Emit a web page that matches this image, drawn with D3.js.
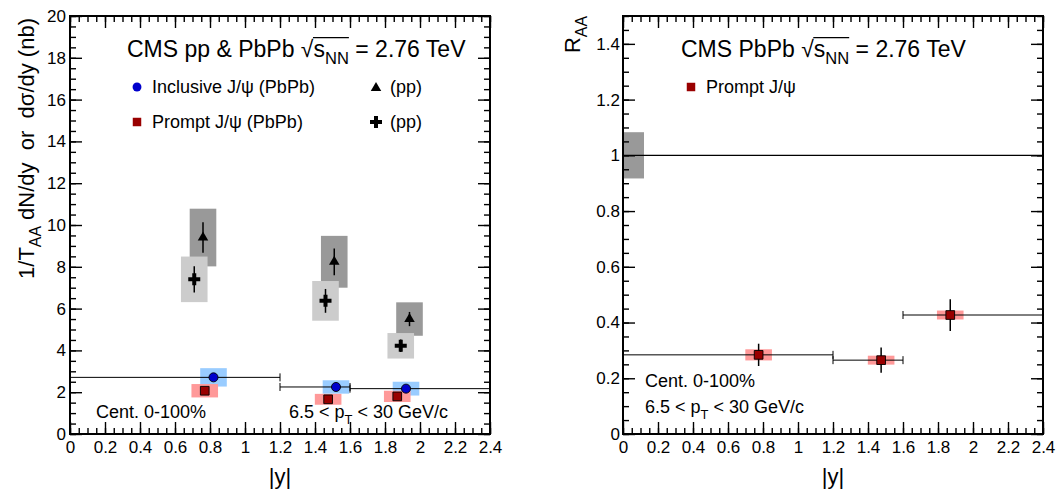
<!DOCTYPE html>
<html>
<head>
<meta charset="utf-8">
<script src="https://cdn.jsdelivr.net/npm/d3@7"></script>
<style>
  body { margin: 0; background: #fff; }
  text { font-family: 'Liberation Sans', Arial, Helvetica, sans-serif; white-space: pre; }
</style>
</head>
<body>
<svg id="chart" width="1056" height="489"></svg>
<script>
/* rapidity bins (|y|) */
const yBins = [[0, 1.2], [1.2, 1.6], [1.6, 2.4]]

/* pp cross sections, triangle marker */
const ppTriX = [0.76, 1.51, 1.94]
const ppTriY = [9.4, 8.24, 5.5]
const ppTriStat = [0.73, 0.64, 0.34]
const ppTriSyst = [1.38, 1.24, 0.8]

/* pp cross sections, cross marker */
const ppCrossX = [0.71, 1.46, 1.89]
const ppCrossY = [7.4, 6.37, 4.22]
const ppCrossStat = [0.63, 0.57, 0.3]
const ppCrossSyst = [1.09, 0.95, 0.61]

/* inclusive J/psi PbPb yields */
const inclX = [0.82, 1.52, 1.92]
const inclY = [2.71, 2.25, 2.17]
const inclStat = [0.12, 0.1, 0.1]
const inclSyst = [0.44, 0.32, 0.33]

/* prompt J/psi PbPb yields */
const promptX = [0.77, 1.475, 1.87]
const promptY = [2.07, 1.66, 1.8]
const promptStat = [0.1, 0.1, 0.1]
const promptSyst = [0.32, 0.26, 0.27]

/* prompt J/psi RAA */
const raaX = [0.775, 1.475, 1.87]
const raaY = [0.284, 0.265, 0.427]
const raaStat = [0.04, 0.045, 0.057]
const raaSyst = [0.02, 0.016, 0.016]
const raaGlobal = 0.083

/* axis tick values */
const xMajor = d3.range(0, 2.41, 0.2)
const xMinor = d3.range(0, 2.41, 0.05)
const yLMajor = d3.range(0, 20.1, 2)
const yLMinor = d3.range(0, 20.1, 0.5)
const yRMajor = d3.range(0, 1.41, 0.2)
const yRMinor = d3.range(0, 1.51, 0.05)

/* style constants */
const boxHalf = 0.076
const globalBoxW = 0.12
const capLen = 4
const col = {
  darkBox: '#999999', lightBox: '#cccccc', blueBox: '#99ccff', redBox: '#ff9999',
  blue: '#0000cc', red: '#990000'
}

const svg = d3.select('#chart')
const fmt = (v) => String(+v.toFixed(2))

/* scales */
const xL = d3.scaleLinear().domain([0, 2.4]).range([70, 490])
const yL = d3.scaleLinear().domain([0, 20]).range([434, 16])
const xR = d3.scaleLinear().domain([0, 2.4]).range([623, 1043])
const yR = d3.scaleLinear().domain([0, 1.5]).range([434, 16])

/* fn: text with optional subscripts */
function richText(g, x, y, size, parts, anchor, rot) {
  const t = g.append('text')
    .attr('x', x).attr('y', y)
    .style('font-size', size + 'px')
    .attr('text-anchor', anchor || 'start')
  if (rot) t.attr('transform', `rotate(${rot},${x},${y})`)
  let down = false
  parts.forEach(function (p) {
    const ts = t.append('tspan').text(p.t)
    if (p.sub) {
      ts.style('font-size', size * 0.72 + 'px')
      if (!down) { ts.attr('dy', size * 0.32); down = true }
    } else if (down) {
      ts.attr('dy', -size * 0.32); down = false
    }
  })
  return t
}

/* fn: title with sqrt(s_NN) and its overline */
function sqrtTitle(g, x, y, size, before) {
  const t = richText(g, x, y, size, [
    { t: before + '\u221A' }, { t: 's' }, { t: 'NN', sub: true }, { t: ' = 2.76 TeV' }
  ])
  const node = t.node()
  const n = before.length
  const x0 = node.getEndPositionOfChar(n).x - 0.5
  const x1 = node.getEndPositionOfChar(n + 3).x
  g.append('line')
    .attr('x1', x0).attr('x2', x1)
    .attr('y1', y - size * 0.84).attr('y2', y - size * 0.84)
    .attr('stroke', '#000').attr('stroke-width', 1.2)
}

/* fn: syst boxes */
function systBoxes(g, xS, yS, xs, ys, es, fill) {
  g.append('g').selectAll('rect')
    .data(xs.map((x, i) => ({ x, y: ys[i], e: es[i] })))
    .join('rect')
    .attr('x', (d) => xS(d.x - boxHalf))
    .attr('width', (d) => xS(d.x + boxHalf) - xS(d.x - boxHalf))
    .attr('y', (d) => yS(d.y + d.e))
    .attr('height', (d) => yS(d.y - d.e) - yS(d.y + d.e))
    .attr('fill', fill)
}

/* fn: vertical stat error bars */
function statBars(g, xS, yS, xs, ys, es) {
  g.append('g').selectAll('line')
    .data(xs.map((x, i) => ({ x, y: ys[i], e: es[i] })))
    .join('line')
    .attr('x1', (d) => xS(d.x)).attr('x2', (d) => xS(d.x))
    .attr('y1', (d) => yS(d.y + d.e)).attr('y2', (d) => yS(d.y - d.e))
    .attr('stroke', '#000').attr('stroke-width', 1.5)
}

/* fn: horizontal bin-width bars with end caps */
function binBars(g, xS, yS, ys) {
  const d = yBins.map((b, i) => ({ lo: b[0], hi: b[1], y: ys[i] }))
  const bg = g.append('g').attr('stroke', '#000').attr('stroke-width', 1)
  bg.selectAll('line.h').data(d).join('line').attr('class', 'h')
    .attr('x1', (v) => xS(v.lo)).attr('x2', (v) => xS(v.hi))
    .attr('y1', (v) => yS(v.y)).attr('y2', (v) => yS(v.y))
  const caps = d.flatMap((v) => [{ x: v.lo, y: v.y }, { x: v.hi, y: v.y }])
  bg.selectAll('line.c').data(caps).join('line').attr('class', 'c')
    .attr('x1', (v) => xS(v.x)).attr('x2', (v) => xS(v.x))
    .attr('y1', (v) => yS(v.y) - capLen).attr('y2', (v) => yS(v.y) + capLen)
}

/* fn: markers */
function markers(g, xS, yS, xs, ys, type, size, fill, stroke) {
  g.append('g').selectAll('path')
    .data(xs.map((x, i) => ({ x, y: ys[i] })))
    .join('path')
    .attr('transform', (d) => `translate(${xS(d.x)},${yS(d.y)})`)
    .attr('d', d3.symbol(type, size)())
    .attr('fill', fill)
    .attr('stroke', stroke || 'none')
    .attr('stroke-width', 0.9)
}

/* fn: frame with ROOT-like inner ticks on all four sides */
function frame(g, xS, yS, yMaj, yMin, yPad) {
  const [x0, x1] = xS.range()
  const [y0, y1] = yS.range()
  const ax = [
    [d3.axisBottom(xS), `translate(0,${y0})`, xMajor, xMinor, 7, fmt],
    [d3.axisTop(xS), `translate(0,${y1})`, xMajor, xMinor, 0, null],
    [d3.axisLeft(yS), `translate(${x0},0)`, yMaj, yMin, yPad, fmt],
    [d3.axisRight(yS), `translate(${x1},0)`, yMaj, yMin, 0, null]
  ]
  ax.forEach(function ([axis, tr, maj, min, pad, f]) {
    g.append('g').attr('transform', tr)
      .call(axis.tickValues(min).tickSize(-6).tickFormat(''))
      .call((s) => s.select('.domain').remove())
      .selectAll('line').attr('stroke-width', 1.4)
    const a = g.append('g').attr('transform', tr)
      .call(axis.tickValues(maj).tickSize(-12).tickPadding(pad).tickFormat(f || ''))
      .call((s) => s.select('.domain').remove())
    a.selectAll('line').attr('stroke-width', 1.4)
    a.selectAll('text').attr('font-family', null).style('font-size', '17px').attr('fill', '#000')
  })
  g.append('rect')
    .attr('x', x0).attr('y', y1).attr('width', x1 - x0).attr('height', y0 - y1)
    .attr('fill', 'none').attr('stroke', '#000').attr('stroke-width', 2)
}

/* ---------- left panel ---------- */
const gL = svg.append('g')
systBoxes(gL, xL, yL, ppTriX, ppTriY, ppTriSyst, col.darkBox)
systBoxes(gL, xL, yL, ppCrossX, ppCrossY, ppCrossSyst, col.lightBox)
systBoxes(gL, xL, yL, inclX, inclY, inclSyst, col.blueBox)
systBoxes(gL, xL, yL, promptX, promptY, promptSyst, col.redBox)
binBars(gL, xL, yL, inclY)
statBars(gL, xL, yL, ppTriX, ppTriY, ppTriStat)
statBars(gL, xL, yL, ppCrossX, ppCrossY, ppCrossStat)
statBars(gL, xL, yL, inclX, inclY, inclStat)
statBars(gL, xL, yL, promptX, promptY, promptStat)
markers(gL, xL, yL, ppTriX, ppTriY, d3.symbolTriangle, 48, '#000')
markers(gL, xL, yL, ppCrossX, ppCrossY, d3.symbolCross, 80, '#000')
markers(gL, xL, yL, inclX, inclY, d3.symbolCircle, 64, col.blue, '#000')
markers(gL, xL, yL, promptX, promptY, d3.symbolSquare, 76, col.red, '#000')
frame(gL, xL, yL, yLMajor, yLMinor, 4)

sqrtTitle(gL, 127, 57, 23, 'CMS pp & PbPb ')
/* legend */
const legL = gL.append('g')
legL.append('path').attr('transform', 'translate(137,87)').attr('d', d3.symbol(d3.symbolCircle, 62)()).attr('fill', col.blue)
legL.append('path').attr('transform', 'translate(137,122)').attr('d', d3.symbol(d3.symbolSquare, 72)()).attr('fill', col.red)
legL.append('path').attr('transform', 'translate(376,88)').attr('d', d3.symbol(d3.symbolTriangle, 48)()).attr('fill', '#000')
legL.append('path').attr('transform', 'translate(376,122)').attr('d', d3.symbol(d3.symbolCross, 80)()).attr('fill', '#000')
richText(legL, 152, 93, 18, [{ t: 'Inclusive J/\u03C8 (PbPb)' }])
richText(legL, 152, 128, 18, [{ t: 'Prompt J/\u03C8 (PbPb)' }])
richText(legL, 390, 93, 18, [{ t: '(pp)' }])
richText(legL, 390, 128, 18, [{ t: '(pp)' }])
richText(gL, 96, 418, 18, [{ t: 'Cent. 0-100%' }])
richText(gL, 289, 418, 18, [{ t: '6.5 < p' }, { t: 'T', sub: true }, { t: ' < 30 GeV/c' }])
/* axis titles */
richText(gL, 34, 18, 22, [{ t: '1/T' }, { t: 'AA', sub: true }, { t: ' dN/dy  or  d\u03C3/dy (nb)' }], 'end', -90)
richText(gL, 280, 484, 22, [{ t: '|y|' }], 'middle')

/* ---------- right panel ---------- */
const gR = svg.append('g')
gR.append('rect')
  .attr('x', xR(0)).attr('width', xR(globalBoxW) - xR(0))
  .attr('y', yR(1 + raaGlobal)).attr('height', yR(1 - raaGlobal) - yR(1 + raaGlobal))
  .attr('fill', col.darkBox)
gR.append('line')
  .attr('x1', xR(0)).attr('x2', xR(2.4)).attr('y1', yR(1)).attr('y2', yR(1))
  .attr('stroke', '#000').attr('stroke-width', 1.2)
systBoxes(gR, xR, yR, raaX, raaY, raaSyst, col.redBox)
binBars(gR, xR, yR, raaY)
statBars(gR, xR, yR, raaX, raaY, raaStat)
markers(gR, xR, yR, raaX, raaY, d3.symbolSquare, 76, col.red, '#000')
frame(gR, xR, yR, yRMajor, yRMinor, 3)

sqrtTitle(gR, 681, 57, 23, 'CMS PbPb ')
gR.append('path').attr('transform', 'translate(691,87)').attr('d', d3.symbol(d3.symbolSquare, 72)()).attr('fill', col.red)
richText(gR, 706, 93, 18, [{ t: 'Prompt J/\u03C8' }])
richText(gR, 645, 387, 18, [{ t: 'Cent. 0-100%' }])
richText(gR, 645, 413, 18, [{ t: '6.5 < p' }, { t: 'T', sub: true }, { t: ' < 30 GeV/c' }])
richText(gR, 580, 16, 22, [{ t: 'R' }, { t: 'AA', sub: true }], 'end', -90)
richText(gR, 833, 484, 22, [{ t: '|y|' }], 'middle')
</script>
</body>
</html>
